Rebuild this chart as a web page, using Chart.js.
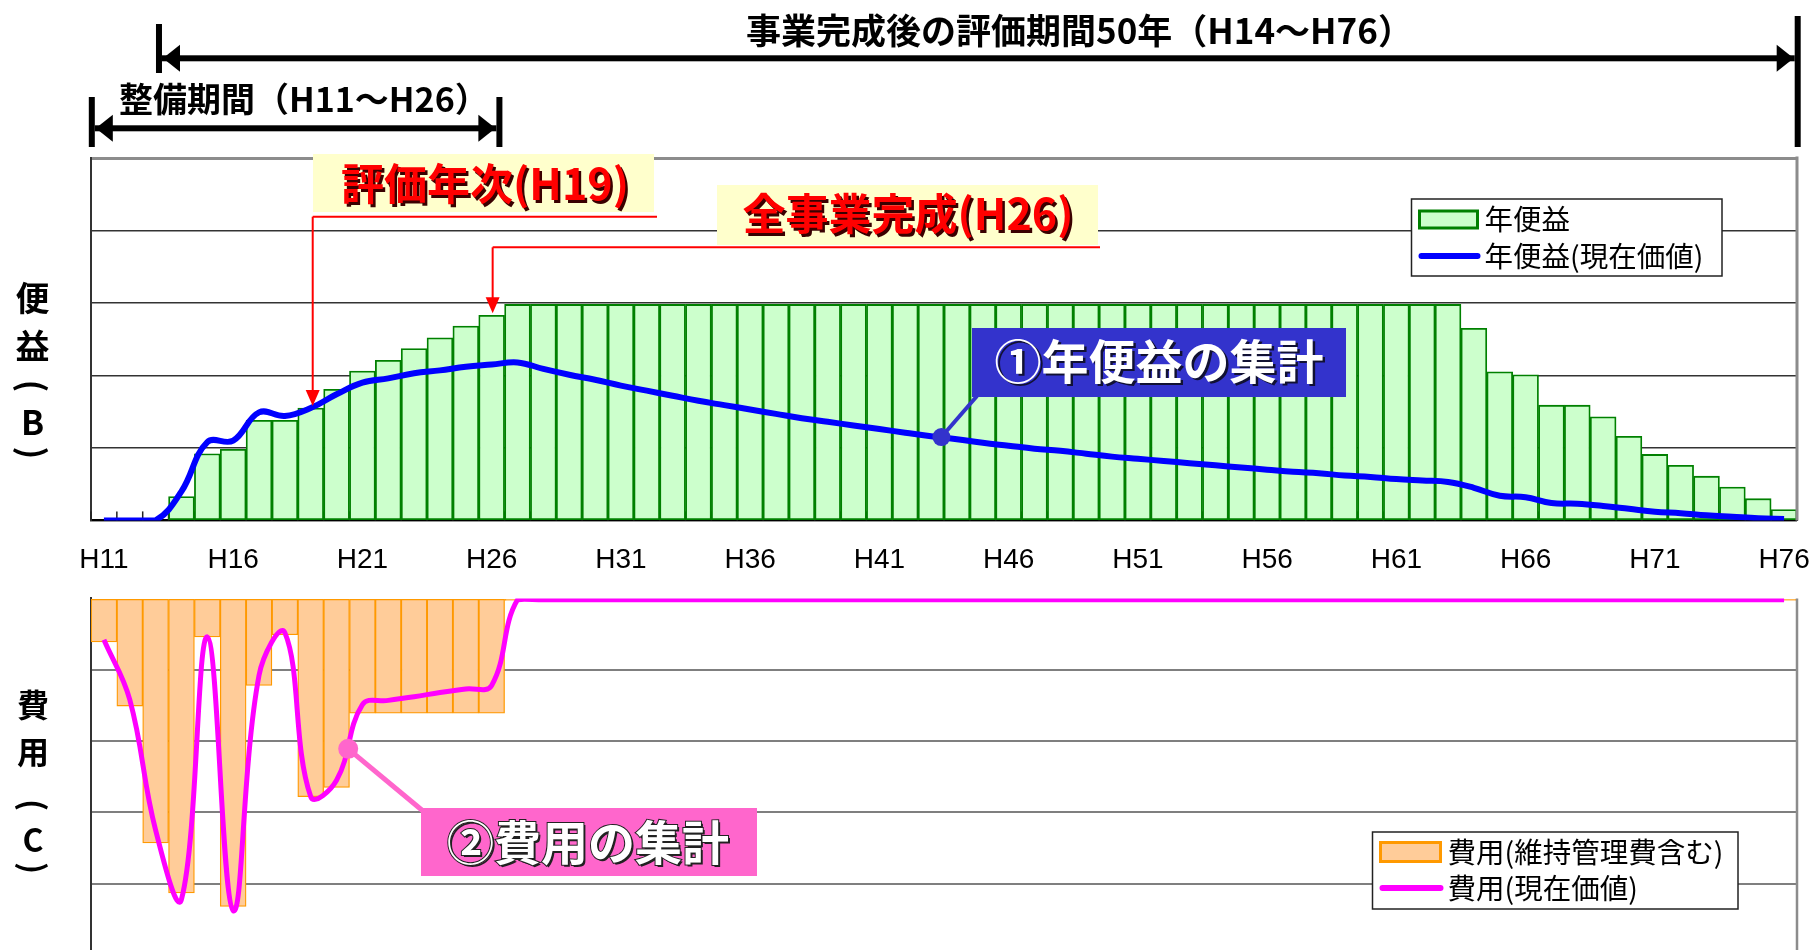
<!DOCTYPE html>
<html lang="ja">
<head>
<meta charset="utf-8">
<script src="https://cdn.jsdelivr.net/npm/chart.js@4.4.1/dist/chart.umd.min.js"></script>
<style>
  html, body { margin: 0; padding: 0; background: #fff; width: 1811px; height: 950px; overflow: hidden; }
  .wrap { position: absolute; left: 0; width: 1811px; }
  #wrapTop { top: 0; height: 600px; }
  #wrapBot { top: 560px; height: 500px; }
</style>
</head>
<body>
<div class="wrap" id="wrapTop"><canvas id="benefitChart"></canvas></div>
<div class="wrap" id="wrapBot"><canvas id="costChart"></canvas></div>
<script>
// Benefit (B) / cost (C) by year, H11..H76. Bars = annual values, lines = present value.
const years = [
  'H11','H12','H13','H14','H15','H16','H17','H18','H19','H20',
  'H21','H22','H23','H24','H25','H26','H27','H28','H29','H30',
  'H31','H32','H33','H34','H35','H36','H37','H38','H39','H40',
  'H41','H42','H43','H44','H45','H46','H47','H48','H49','H50',
  'H51','H52','H53','H54','H55','H56','H57','H58','H59','H60',
  'H61','H62','H63','H64','H65','H66','H67','H68','H69','H70',
  'H71','H72','H73','H74','H75','H76'
];
const tickLabels = ['H11','H16','H21','H26','H31','H36','H41','H46','H51','H56','H61','H66','H71','H76'];

const benefit = [
  0, 0, 0, 0.33, 0.92, 0.98, 1.38, 1.38, 1.55, 1.81,
  2.06, 2.21, 2.37, 2.52, 2.68, 2.83, 2.98, 2.98, 2.98, 2.98,
  2.98, 2.98, 2.98, 2.98, 2.98, 2.98, 2.98, 2.98, 2.98, 2.98,
  2.98, 2.98, 2.98, 2.98, 2.98, 2.98, 2.98, 2.98, 2.98, 2.98,
  2.98, 2.98, 2.98, 2.98, 2.98, 2.98, 2.98, 2.98, 2.98, 2.98,
  2.98, 2.98, 2.98, 2.65, 2.05, 2.01, 1.59, 1.59, 1.43, 1.16,
  0.91, 0.76, 0.61, 0.46, 0.30, 0.15
];
const benefitPV = [
  0, 0, 0, 0.40, 1.08, 1.10, 1.49, 1.44, 1.55, 1.74,
  1.90, 1.96, 2.03, 2.07, 2.12, 2.15, 2.18, 2.09, 2.01, 1.94,
  1.86, 1.79, 1.72, 1.65, 1.59, 1.53, 1.47, 1.41, 1.36, 1.31,
  1.26, 1.21, 1.16, 1.12, 1.07, 1.03, 0.99, 0.96, 0.92, 0.88,
  0.85, 0.82, 0.79, 0.76, 0.73, 0.70, 0.67, 0.65, 0.62, 0.60,
  0.57, 0.55, 0.53, 0.45, 0.34, 0.32, 0.24, 0.23, 0.20, 0.16,
  0.12, 0.10, 0.07, 0.05, 0.03, 0.02
];
const cost = [
  0.61, 1.51, 3.43, 4.13, 0.54, 4.32, 1.22, 0.51, 2.78, 2.65,
  1.61, 1.61, 1.61, 1.61, 1.61, 1.61, 0.03, 0.03, 0.03, 0.03,
  0.03, 0.03, 0.03, 0.03, 0.03, 0.03, 0.03, 0.03, 0.03, 0.03,
  0.03, 0.03, 0.03, 0.03, 0.03, 0.03, 0.03, 0.03, 0.03, 0.03,
  0.03, 0.03, 0.03, 0.03, 0.03, 0.03, 0.03, 0.03, 0.03, 0.03,
  0.03, 0.03, 0.03, 0.03, 0.03, 0.03, 0.03, 0.03, 0.03, 0.03,
  0.03, 0.03, 0.03, 0.03, 0.03, 0.03
];
const costPV = [
  0.58, 1.42, 3.25, 4.22, 0.54, 4.38, 1.08, 0.48, 2.78, 2.55,
  1.49, 1.43, 1.38, 1.32, 1.27, 1.22, 0.02, 0.02, 0.02, 0.02,
  0.02, 0.02, 0.02, 0.02, 0.02, 0.02, 0.02, 0.02, 0.02, 0.02,
  0.02, 0.02, 0.02, 0.02, 0.02, 0.02, 0.02, 0.02, 0.02, 0.02,
  0.02, 0.02, 0.02, 0.02, 0.02, 0.02, 0.02, 0.02, 0.02, 0.02,
  0.02, 0.02, 0.02, 0.02, 0.02, 0.02, 0.02, 0.02, 0.02, 0.02,
  0.02, 0.02, 0.02, 0.02, 0.02, 0.02
];

const FONT_JP = "'Noto Sans CJK JP', 'Noto Sans', sans-serif";
const FONT_NUM = "'Liberation Sans Narrow', 'Liberation Sans', Arial, sans-serif";
const BOT_TOP = 560; // page offset of the cost canvas

// ---- small drawing helpers ----
function seg(ctx, x1, y1, x2, y2, color, w) {
  ctx.beginPath(); ctx.moveTo(x1, y1); ctx.lineTo(x2, y2);
  ctx.strokeStyle = color; ctx.lineWidth = w; ctx.stroke();
}
function tri(ctx, p, color) {
  ctx.beginPath(); ctx.moveTo(p[0], p[1]); ctx.lineTo(p[2], p[3]); ctx.lineTo(p[4], p[5]);
  ctx.closePath(); ctx.fillStyle = color; ctx.fill();
}
// span arrow with end bars: xl/xr end bars, yy shaft height
function dimension(ctx, xl, xr, yy, barL, barR) {
  ctx.fillStyle = '#000';
  ctx.fillRect(xl - 3, barL[0], 6, barL[1] - barL[0]);
  ctx.fillRect(xr - 3, barR[0], 6, barR[1] - barR[0]);
  ctx.fillRect(xl + 3, yy - 3, xr - xl - 6, 6);
  tri(ctx, [xl + 4, yy, xl + 21, yy - 13.5, xl + 21, yy + 13.5], '#000');
  tri(ctx, [xr - 4, yy, xr - 21, yy - 13.5, xr - 21, yy + 13.5], '#000');
}
function label(ctx, txt, x, y, size, color, align, bold) {
  ctx.font = (bold ? 'bold ' : '') + size + 'px ' + FONT_JP;
  ctx.textAlign = align; ctx.textBaseline = 'middle';
  ctx.fillStyle = color; ctx.fillText(txt, x, y);
}
function shadowText(ctx, txt, x, y, size, color, shadow, off, outline) {
  ctx.font = 'bold ' + size + 'px ' + FONT_JP;
  ctx.textAlign = 'center'; ctx.textBaseline = 'middle';
  ctx.fillStyle = shadow; ctx.fillText(txt, x + off, y + off);
  if (outline) { ctx.lineWidth = 2; ctx.strokeStyle = shadow; ctx.strokeText(txt, x, y); }
  ctx.fillStyle = color; ctx.fillText(txt, x, y);
}
// vertical axis title, one glyph per row; brackets are turned on their side
function verticalTitle(ctx, glyphs, x, ys, size) {
  glyphs.forEach((g, i) => {
    ctx.save();
    ctx.translate(x, ys[i]);
    if (g === '(' || g === ')') ctx.rotate(Math.PI / 2);
    label(ctx, g, 0, 0, size, '#000', 'center', true);
    ctx.restore();
  });
}
function drawLegend(chart, box) {
  const ctx = chart.ctx;
  ctx.fillStyle = '#fff'; ctx.fillRect(box.x, box.y, box.w, box.h);
  ctx.strokeStyle = '#222'; ctx.lineWidth = 1.5; ctx.strokeRect(box.x, box.y, box.w, box.h);
  chart.data.datasets.forEach((ds, i) => {
    const ry = box.rows[i];
    if (ds.type === 'bar') {
      ctx.fillStyle = ds.backgroundColor;
      ctx.fillRect(box.x + 8, ry - box.sw / 2, box.sl, box.sw);
      ctx.strokeStyle = ds.borderColor; ctx.lineWidth = 3;
      ctx.strokeRect(box.x + 8, ry - box.sw / 2, box.sl, box.sw);
    } else {
      ctx.lineCap = 'round';
      seg(ctx, box.x + 10, ry, box.x + 8 + box.sl, ry, ds.borderColor, 6);
      ctx.lineCap = 'butt';
    }
    label(ctx, ds.label, box.x + box.sl + 15, ry, 28.5, '#000', 'left', false);
  });
}

// ---- benefit chart overlays ----
const benefitOverlay = {
  id: 'benefitOverlay',
  beforeDatasetsDraw(chart) {
    const { ctx, chartArea: a, scales: { x } } = chart;
    ctx.save();
    for (let i = 0; i <= years.length; i++) {
      const px = x.getPixelForValue(i - 0.5);
      seg(ctx, px, a.bottom, px, a.bottom - 9, '#222', 1.5);
    }
    ctx.restore();
  },
  afterDraw(chart) {
    const { ctx, chartArea: a, scales: { x, y } } = chart;
    ctx.save();
    seg(ctx, a.right, a.top - 1.5, a.right, a.bottom, '#8c8c8c', 3);

    // evaluation span and construction span
    dimension(ctx, x.getPixelForValue(2.13), a.right + 0.7, 58.3, [24, 73], [16, 147]);
    dimension(ctx, a.left + 0.8, x.getPixelForValue(15.3), 128.3, [97, 147], [97, 147]);
    label(ctx, '事業完成後の評価期間50年（H14〜H76）', 746, 31, 35, '#000', 'left', true);
    label(ctx, '整備期間（H11〜H26）', 119, 99, 34, '#000', 'left', true);

    verticalTitle(ctx, ['便', '益', '(', 'B', ')'], 32.5, [298, 346, 386, 422, 453], 34);

    // 評価年次 callout
    const x19 = x.getPixelForValue(8) + 2, top19 = y.getPixelForValue(benefit[8]) - 2;
    ctx.fillStyle = '#FFFFCC'; ctx.fillRect(313, 154, 341, 58);
    shadowText(ctx, '評価年次(H19)', 485, 184, 43, '#FF0000', '#3a0000', 2.5);
    seg(ctx, 657, 216.7, x19, 216.7, '#FF0000', 2);
    seg(ctx, x19, 216.7, x19, top19 - 14, '#FF0000', 2);
    tri(ctx, [x19, top19, x19 - 7, top19 - 16, x19 + 7, top19 - 16], '#FF0000');

    // 全事業完成 callout
    const x26 = x.getPixelForValue(15) + 1, top26 = y.getPixelForValue(benefit[15]) - 2;
    ctx.fillStyle = '#FFFFCC'; ctx.fillRect(717, 185, 381, 60);
    shadowText(ctx, '全事業完成(H26)', 908, 214, 43, '#FF0000', '#3a0000', 2.5);
    seg(ctx, 1100, 247.3, x26, 247.3, '#FF0000', 2);
    seg(ctx, x26, 247.3, x26, top26 - 14, '#FF0000', 2);
    tri(ctx, [x26, top26, x26 - 7, top26 - 16, x26 + 7, top26 - 16], '#FF0000');

    // ① callout pointing at the present value line
    const dx = x.getPixelForValue(32.4), dy = y.getPixelForValue(1.15);
    seg(ctx, 977, 396, dx, dy, '#3333CC', 4);
    ctx.beginPath(); ctx.arc(dx, dy, 9, 0, Math.PI * 2); ctx.fillStyle = '#3333CC'; ctx.fill();
    ctx.fillStyle = '#3333CC'; ctx.fillRect(972, 328, 374, 69);
    shadowText(ctx, '①年便益の集計', 1159, 361, 47, '#FFFFFF', '#111133', 2.5);

    drawLegend(chart, { x: 1411.5, y: 199, w: 310.5, h: 77, rows: [219.5, 256], sl: 58, sw: 17 });
    ctx.restore();
  }
};

// ---- cost chart overlays ----
const costOverlay = {
  id: 'costOverlay',
  afterDraw(chart) {
    const { ctx, chartArea: a, scales: { x, y } } = chart;
    ctx.save();
    seg(ctx, a.right, a.top, a.right, a.bottom, '#8c8c8c', 2.5);

    verticalTitle(ctx, ['費', '用', '(', 'C', ')'], 33, [705 - BOT_TOP, 752 - BOT_TOP, 805 - BOT_TOP, 840 - BOT_TOP, 868 - BOT_TOP], 32);

    // ② callout pointing at the present value line
    const dx = x.getPixelForValue(9.45), dy = y.getPixelForValue(2.11);
    seg(ctx, 423, 811 - BOT_TOP, dx, dy, '#FF66CC', 5);
    ctx.beginPath(); ctx.arc(dx, dy, 10, 0, Math.PI * 2); ctx.fillStyle = '#FF66CC'; ctx.fill();
    ctx.fillStyle = '#FF66CC'; ctx.fillRect(421, 808 - BOT_TOP, 336, 68);
    shadowText(ctx, '②費用の集計', 588, 842 - BOT_TOP, 47, '#FFFFFF', '#222222', 2, true);

    drawLegend(chart, { x: 1372.5, y: 832 - BOT_TOP, w: 365.5, h: 77, rows: [852 - BOT_TOP, 888 - BOT_TOP], sl: 60, sw: 19 });
    ctx.restore();
  }
};

new Chart(document.getElementById('benefitChart').getContext('2d'), {
  data: {
    labels: years,
    datasets: [
      { type: 'bar', label: '年便益', data: benefit,
        backgroundColor: '#CCFFCC', borderColor: '#008000', borderWidth: 1.8, borderSkipped: false,
        barPercentage: 1, categoryPercentage: 1, order: 2 },
      { type: 'line', label: '年便益(現在価値)', data: benefitPV,
        borderColor: '#0000FF', borderWidth: 6, pointRadius: 0, tension: 0.4, order: 1 }
    ]
  },
  options: {
    responsive: true, maintainAspectRatio: false, animation: false,
    layout: { padding: { left: 91, right: 14, top: 158, bottom: 23 } },
    plugins: { legend: { display: false }, tooltip: { enabled: false } },
    scales: {
      x: {
        offset: true,
        // tick marks are hidden, their length only pushes the labels down
        grid: { display: false, drawTicks: true, tickLength: 23 },
        border: { display: true, color: '#000', width: 2 },
        ticks: {
          autoSkip: false, maxRotation: 0, minRotation: 0, padding: 0, color: '#000',
          font: { family: FONT_NUM, size: 28 },
          callback: function (v) { const l = this.getLabelForValue(v); return tickLabels.includes(l) ? l : ''; }
        }
      },
      y: {
        min: 0, max: 5,
        ticks: { display: false, stepSize: 1 },
        grid: {
          drawTicks: false,
          color: c => c.tick.value === 5 ? '#8c8c8c' : '#333',
          lineWidth: c => c.tick.value === 5 ? 3 : 1.5
        },
        border: { display: true, color: '#333', width: 2 }
      }
    }
  },
  plugins: [benefitOverlay]
});

new Chart(document.getElementById('costChart').getContext('2d'), {
  data: {
    labels: years,
    datasets: [
      { type: 'bar', label: '費用(維持管理費含む)', data: cost,
        backgroundColor: '#FFCC99', borderColor: '#FF9900', borderWidth: 1.3, borderSkipped: false,
        barPercentage: 1, categoryPercentage: 1, order: 2 },
      { type: 'line', label: '費用(現在価値)', data: costPV,
        borderColor: '#FF00FF', borderWidth: 5, pointRadius: 0, tension: 0.4, order: 1 }
    ]
  },
  options: {
    responsive: true, maintainAspectRatio: false, animation: false,
    layout: { padding: { left: 91, right: 14, top: 38.4, bottom: 33.8 } },
    plugins: { legend: { display: false }, tooltip: { enabled: false } },
    scales: {
      x: { display: false, offset: true },
      y: {
        min: 0, max: 6, reverse: true,
        ticks: { display: false, stepSize: 1 },
        grid: { drawTicks: false, color: c => c.tick.value === 0 ? 'rgba(0,0,0,0)' : '#7f7f7f', lineWidth: 2 },
        border: { display: true, color: '#333', width: 2 }
      }
    }
  },
  plugins: [costOverlay]
});
</script>
</body>
</html>
